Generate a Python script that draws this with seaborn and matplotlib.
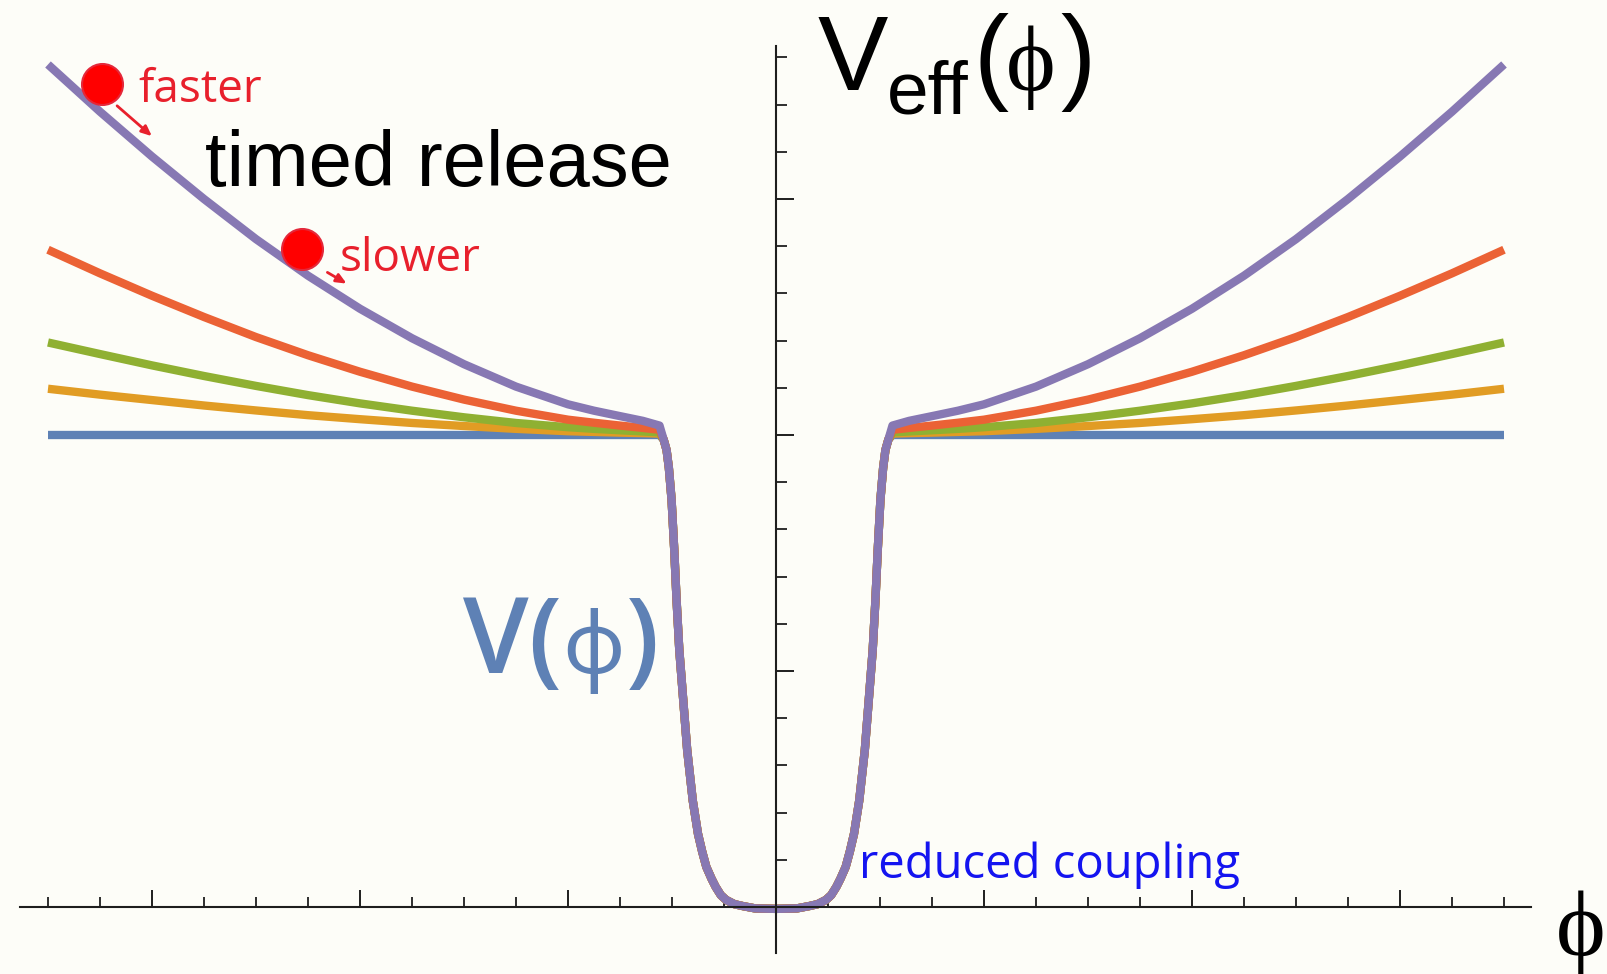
import numpy as np
import pandas as pd
import matplotlib
matplotlib.use("Agg")
import matplotlib.pyplot as plt
import seaborn as sns

# ---------------- data ----------------
series_names = ["c0", "c1", "c2", "c4", "c8"]
series_colors = ["#5E81B5", "#E19C24", "#8FB032", "#EB6235", "#8778B3"]

# shared potential well V(phi) around the origin
phi_well = [-0.54, -0.526, -0.515, -0.502, -0.489, -0.478, -0.465, -0.446, -0.427, -0.40,
            -0.375, -0.355, -0.335, -0.31, -0.29, -0.265, -0.24, -0.2, -0.16, -0.1, 0.0,
            0.1, 0.16, 0.2, 0.24, 0.265, 0.29, 0.31, 0.335, 0.355, 0.375, 0.40, 0.427,
            0.446, 0.465, 0.478, 0.489, 0.502, 0.515, 0.526, 0.54]
v_well = [1.98, 1.936, 1.86, 1.725, 1.51, 1.30, 1.09, 0.877, 0.665, 0.45,
          0.31, 0.235, 0.17, 0.12, 0.085, 0.05, 0.03, 0.012, 0.004, -0.006, -0.008,
          -0.006, 0.004, 0.012, 0.03, 0.05, 0.085, 0.12, 0.17, 0.235, 0.31, 0.45, 0.665,
          0.877, 1.09, 1.30, 1.51, 1.725, 1.86, 1.936, 1.98]

# outer branches
phi_left = [-3.5, -3.25, -3.0, -2.75, -2.5, -2.25, -2.0, -1.75, -1.5, -1.25, -1.0,
            -0.875, -0.75, -0.64, -0.56]
phi_right = [0.56, 0.64, 0.75, 0.875, 1.0, 1.25, 1.5, 1.75, 2.0, 2.25, 2.5, 2.75,
             3.0, 3.25, 3.5]

c0_left = [2.0, 2.0, 2.0, 2.0, 2.0, 2.0, 2.0, 2.0, 2.0, 2.0, 2.0, 2.0, 2.0, 2.0, 2.0]
c0_right = [2.0, 2.0, 2.0, 2.0, 2.0, 2.0, 2.0, 2.0, 2.0, 2.0, 2.0, 2.0, 2.0, 2.0, 2.0]
c1_left = [2.196, 2.171, 2.148, 2.125, 2.104, 2.084, 2.067, 2.051, 2.038, 2.026, 2.016,
           2.013, 2.01, 2.008, 2.006]
c1_right = [2.006, 2.008, 2.01, 2.013, 2.016, 2.026, 2.038, 2.051, 2.067, 2.084, 2.104,
            2.125, 2.148, 2.171, 2.196]
c2_left = [2.392, 2.343, 2.295, 2.25, 2.208, 2.169, 2.134, 2.103, 2.075, 2.051, 2.033,
           2.026, 2.02, 2.015, 2.011]
c2_right = [2.011, 2.015, 2.02, 2.026, 2.033, 2.051, 2.075, 2.103, 2.134, 2.169, 2.208,
            2.25, 2.295, 2.343, 2.392]
c4_left = [2.785, 2.685, 2.59, 2.50, 2.415, 2.338, 2.268, 2.205, 2.15, 2.103, 2.065,
           2.052, 2.04, 2.03, 2.022]
c4_right = [2.022, 2.03, 2.04, 2.052, 2.065, 2.103, 2.15, 2.205, 2.268, 2.338, 2.415,
            2.50, 2.59, 2.685, 2.785]
c8_left = [3.57, 3.37, 3.18, 3.00, 2.83, 2.675, 2.535, 2.41, 2.30, 2.205, 2.13,
           2.103, 2.08, 2.06, 2.04]
c8_right = [2.04, 2.06, 2.08, 2.103, 2.13, 2.205, 2.30, 2.41, 2.535, 2.675, 2.83,
            3.00, 3.18, 3.37, 3.57]

outer = {
    "c0": (c0_left, c0_right),
    "c1": (c1_left, c1_right),
    "c2": (c2_left, c2_right),
    "c4": (c4_left, c4_right),
    "c8": (c8_left, c8_right),
}

# rolling balls (annotations)
ball_phi = [-3.24, -2.28]
ball_v = [3.487, 2.788]

# ---------------- build long table ----------------
rows = []
for name in series_names:
    left, right = outer[name]
    xs = phi_left + phi_well + phi_right
    ys = left + v_well + right
    for x, y in zip(xs, ys):
        rows.append((name, x, y))
df = pd.DataFrame(rows, columns=["series", "phi", "V"])

# ---------------- figure ----------------
W, H = 1607, 974
sns.set_theme(style="white")
plt.rcParams["lines.solid_capstyle"] = "butt"
plt.rcParams["lines.solid_joinstyle"] = "round"
bg = "#fdfdf8"

fig = plt.figure(figsize=(W / 100, H / 100), dpi=100, facecolor=bg)
ax = fig.add_axes([0, 0, 1, 1])
ax.set_facecolor(bg)

LW = 6.0
sns.lineplot(data=df, x="phi", y="V", hue="series", hue_order=series_names,
             palette=series_colors, estimator=None, sort=False, linewidth=LW,
             legend=False, ax=ax)
for ln in ax.lines:
    ln.set_linewidth(LW)
    ln.set_solid_capstyle("butt")
    ln.set_solid_joinstyle("round")

sns.scatterplot(x=ball_phi, y=ball_v, s=870, color="#ff0000", edgecolor="#e4283a",
                linewidth=1.5, zorder=6, legend=False, ax=ax)

# axes geometry (origin at px (776, 907); 208 px per x unit, 236 px per y unit)
ax.set_xlim(-776 / 208, (W - 776) / 208)
ax.set_ylim(-(H - 907) / 236, 907 / 236)
ax.set_xlabel("")
ax.set_ylabel("")

for s in ["top", "right"]:
    ax.spines[s].set_visible(False)
ax.spines["left"].set_position(("data", 0))
ax.spines["bottom"].set_position(("data", 0))
ax.spines["bottom"].set_bounds(-3.635, 3.63)
ax.spines["left"].set_bounds(-0.195, 3.648)
for s in ["left", "bottom"]:
    ax.spines[s].set_color("#1e1e1e")
    ax.spines[s].set_linewidth(1.5)
    ax.spines[s].set_zorder(3)

xmaj = [-3, -2, -1, 1, 2, 3]
xmin = [v for v in np.arange(-3.5, 3.51, 0.25) if abs(v - round(v)) > 1e-6]
ymaj = [1, 2, 3]
ymin = [v for v in np.arange(0.2, 3.61, 0.2) if abs(v - round(v)) > 1e-6]
ax.set_xticks(xmaj)
ax.set_xticks(xmin, minor=True)
ax.set_yticks(ymaj)
ax.set_yticks(ymin, minor=True)
ax.tick_params(axis="x", which="major", direction="in", length=12, width=1.4,
               color="#1e1e1e", labelbottom=False, bottom=True)
ax.tick_params(axis="x", which="minor", direction="in", length=7, width=1.3,
               color="#1e1e1e", bottom=True)
ax.tick_params(axis="y", which="major", direction="in", length=13, width=1.4,
               color="#1e1e1e", labelleft=False, left=True)
ax.tick_params(axis="y", which="minor", direction="in", length=8, width=1.3,
               color="#1e1e1e", left=True)


def fx(px):
    return px / W


def fy(py):
    return 1 - py / H


sans = ["Liberation Sans", "DejaVu Sans"]
serif = ["Liberation Serif", "DejaVu Serif"]
human = ["Open Sans", "DejaVu Sans"]
phi_font = ["Noto Sans", "DejaVu Sans"]

# V_eff(phi) label
fig.text(fx(818), fy(90), "V", fontsize=76, family=sans, color="black", va="baseline", ha="left")
fig.text(fx(887), fy(113), "eff", fontsize=54, family=sans, color="black", va="baseline", ha="left")
fig.text(fx(973), fy(90), "(", fontsize=76, family=sans, color="black", va="baseline", ha="left")
fig.text(fx(1031), fy(90), "ϕ", fontsize=68, family=serif, color="black", va="baseline", ha="center")
fig.text(fx(1060), fy(90), ")", fontsize=76, family=sans, color="black", va="baseline", ha="left")

# phi axis label
fig.text(fx(1581), fy(955), "ϕ", fontsize=68, family=serif, color="black", va="baseline", ha="center")

# annotations
fig.text(fx(205), fy(186), "timed release", fontsize=56, family=sans, color="black",
         va="baseline", ha="left")
fig.text(fx(138), fy(102), "faster", fontsize=33, family=human, color="#e8202c",
         va="baseline", ha="left")
fig.text(fx(340), fy(271), "slower", fontsize=33, family=human, color="#e8202c",
         va="baseline", ha="left")
fig.text(fx(859), fy(878), "reduced coupling", fontsize=34, family=human, color="#1414f0",
         va="baseline", ha="left")

# V(phi) label, drawn in pieces so the stroke-form phi can come from another family;
# each piece starts where the previous one ends so their boxes do not overlap
vcol = "#5E81B5"
renderer = fig.canvas.get_renderer()
x_cur = 463
for piece, size, fam in [("V(", 76, human), ("ϕ", 62, phi_font), (")", 76, human)]:
    t = fig.text(fx(x_cur), fy(673), piece, fontsize=size, family=fam,
                 fontweight="semibold", color=vcol, va="baseline", ha="left")
    bb = t.get_window_extent(renderer=renderer)
    x_cur = bb.x1 + 0.5

arrow_kw = dict(arrowstyle="-|>,head_length=0.5,head_width=0.22", color="#e8202c", lw=2)
ax.annotate("", xy=(154, H - 138), xytext=(115, H - 104), xycoords="figure pixels",
            textcoords="figure pixels", arrowprops=arrow_kw)
ax.annotate("", xy=(349, H - 285), xytext=(325, H - 271), xycoords="figure pixels",
            textcoords="figure pixels", arrowprops=arrow_kw)

fig.savefig("out.png", dpi=100, facecolor=bg)
